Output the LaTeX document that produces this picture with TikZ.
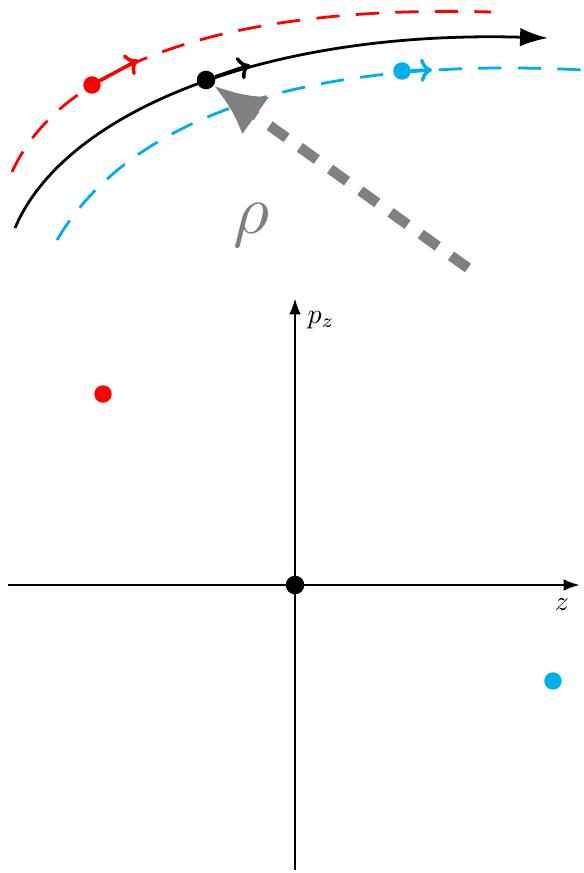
\documentclass[tikz,border=0pt]{standalone}
\usetikzlibrary{arrows.meta}
\definecolor{skyblue}{RGB}{0,174,239}
\begin{document}
\begin{tikzpicture}[
x=0.43pt,y=-0.43pt,
dot/.style={circle,fill,inner sep=0pt,minimum size=8pt},
lab/.style={scale=1.2},
traj/.style={line width=1.2pt,dash pattern=on 10pt off 7pt},
vec/.style={line width=1.5pt,-{To[length=5pt,width=10pt]}},
axis/.style={line width=1.2pt,-{Latex[length=7pt,width=5pt]}}
]
\useasboundingbox (0,0) rectangle (583,873);
% phase space
\coordinate (zstart) at (8,585);
\coordinate (zend) at (580,585);
\coordinate (pstart) at (295,870);
\coordinate (pend) at (295,298);
\draw[axis] (zstart) -- (zend);
\draw[axis] (pstart) -- (pend);
\node (zlab)[lab] at (562,604) {$z$};
\node (plab)[lab] at (321,320) {$p_z$};
\node (o)[dot] at (295,585) {};
\node (r)[dot,red,minimum size=7.5pt] at (103,394) {};
\node (b)[dot,skyblue,minimum size=7.5pt] at (553,681) {};
% trajectories
\coordinate (rs) at (12,172);
\coordinate (re) at (491,12);
\coordinate (ks) at (15,228);
\coordinate (ke) at (548,38);
\coordinate (bs) at (57,240);
\coordinate (be) at (583,70);
\draw[traj,red] (rs) .. controls (65,55) and (250,5) .. (re);
\draw[traj,skyblue] (bs) .. controls (125,125) and (290,55) .. (be);
\draw[line width=1.2pt,-{Latex[length=12pt,width=8pt]}] (ks) .. controls (65,110) and (270,30) .. (ke);
\node (rdot)[dot,red,minimum size=7.5pt] at (92,85) {};
\node (kdot)[dot] at (206,80) {};
\node (bdot)[dot,skyblue,minimum size=7.5pt] at (402,71) {};
\coordinate (rtip) at (138,60);
\coordinate (ktip) at (250,65);
\coordinate (btip) at (432,70);
\draw[vec,red] (rdot) -- (rtip);
\draw[vec] (kdot) -- (ktip);
\draw[vec,skyblue] (bdot) -- (btip);
% lattice function
\coordinate (rhostart) at (468,268);
\draw[gray,line width=4.5pt,dash pattern=on 9pt off 7pt,-{Latex[length=22pt,width=20pt]}] (rhostart) -- (kdot);
\node (rho)[text=gray,scale=3] at (252,225) {$\rho$};
\end{tikzpicture}
\end{document}
